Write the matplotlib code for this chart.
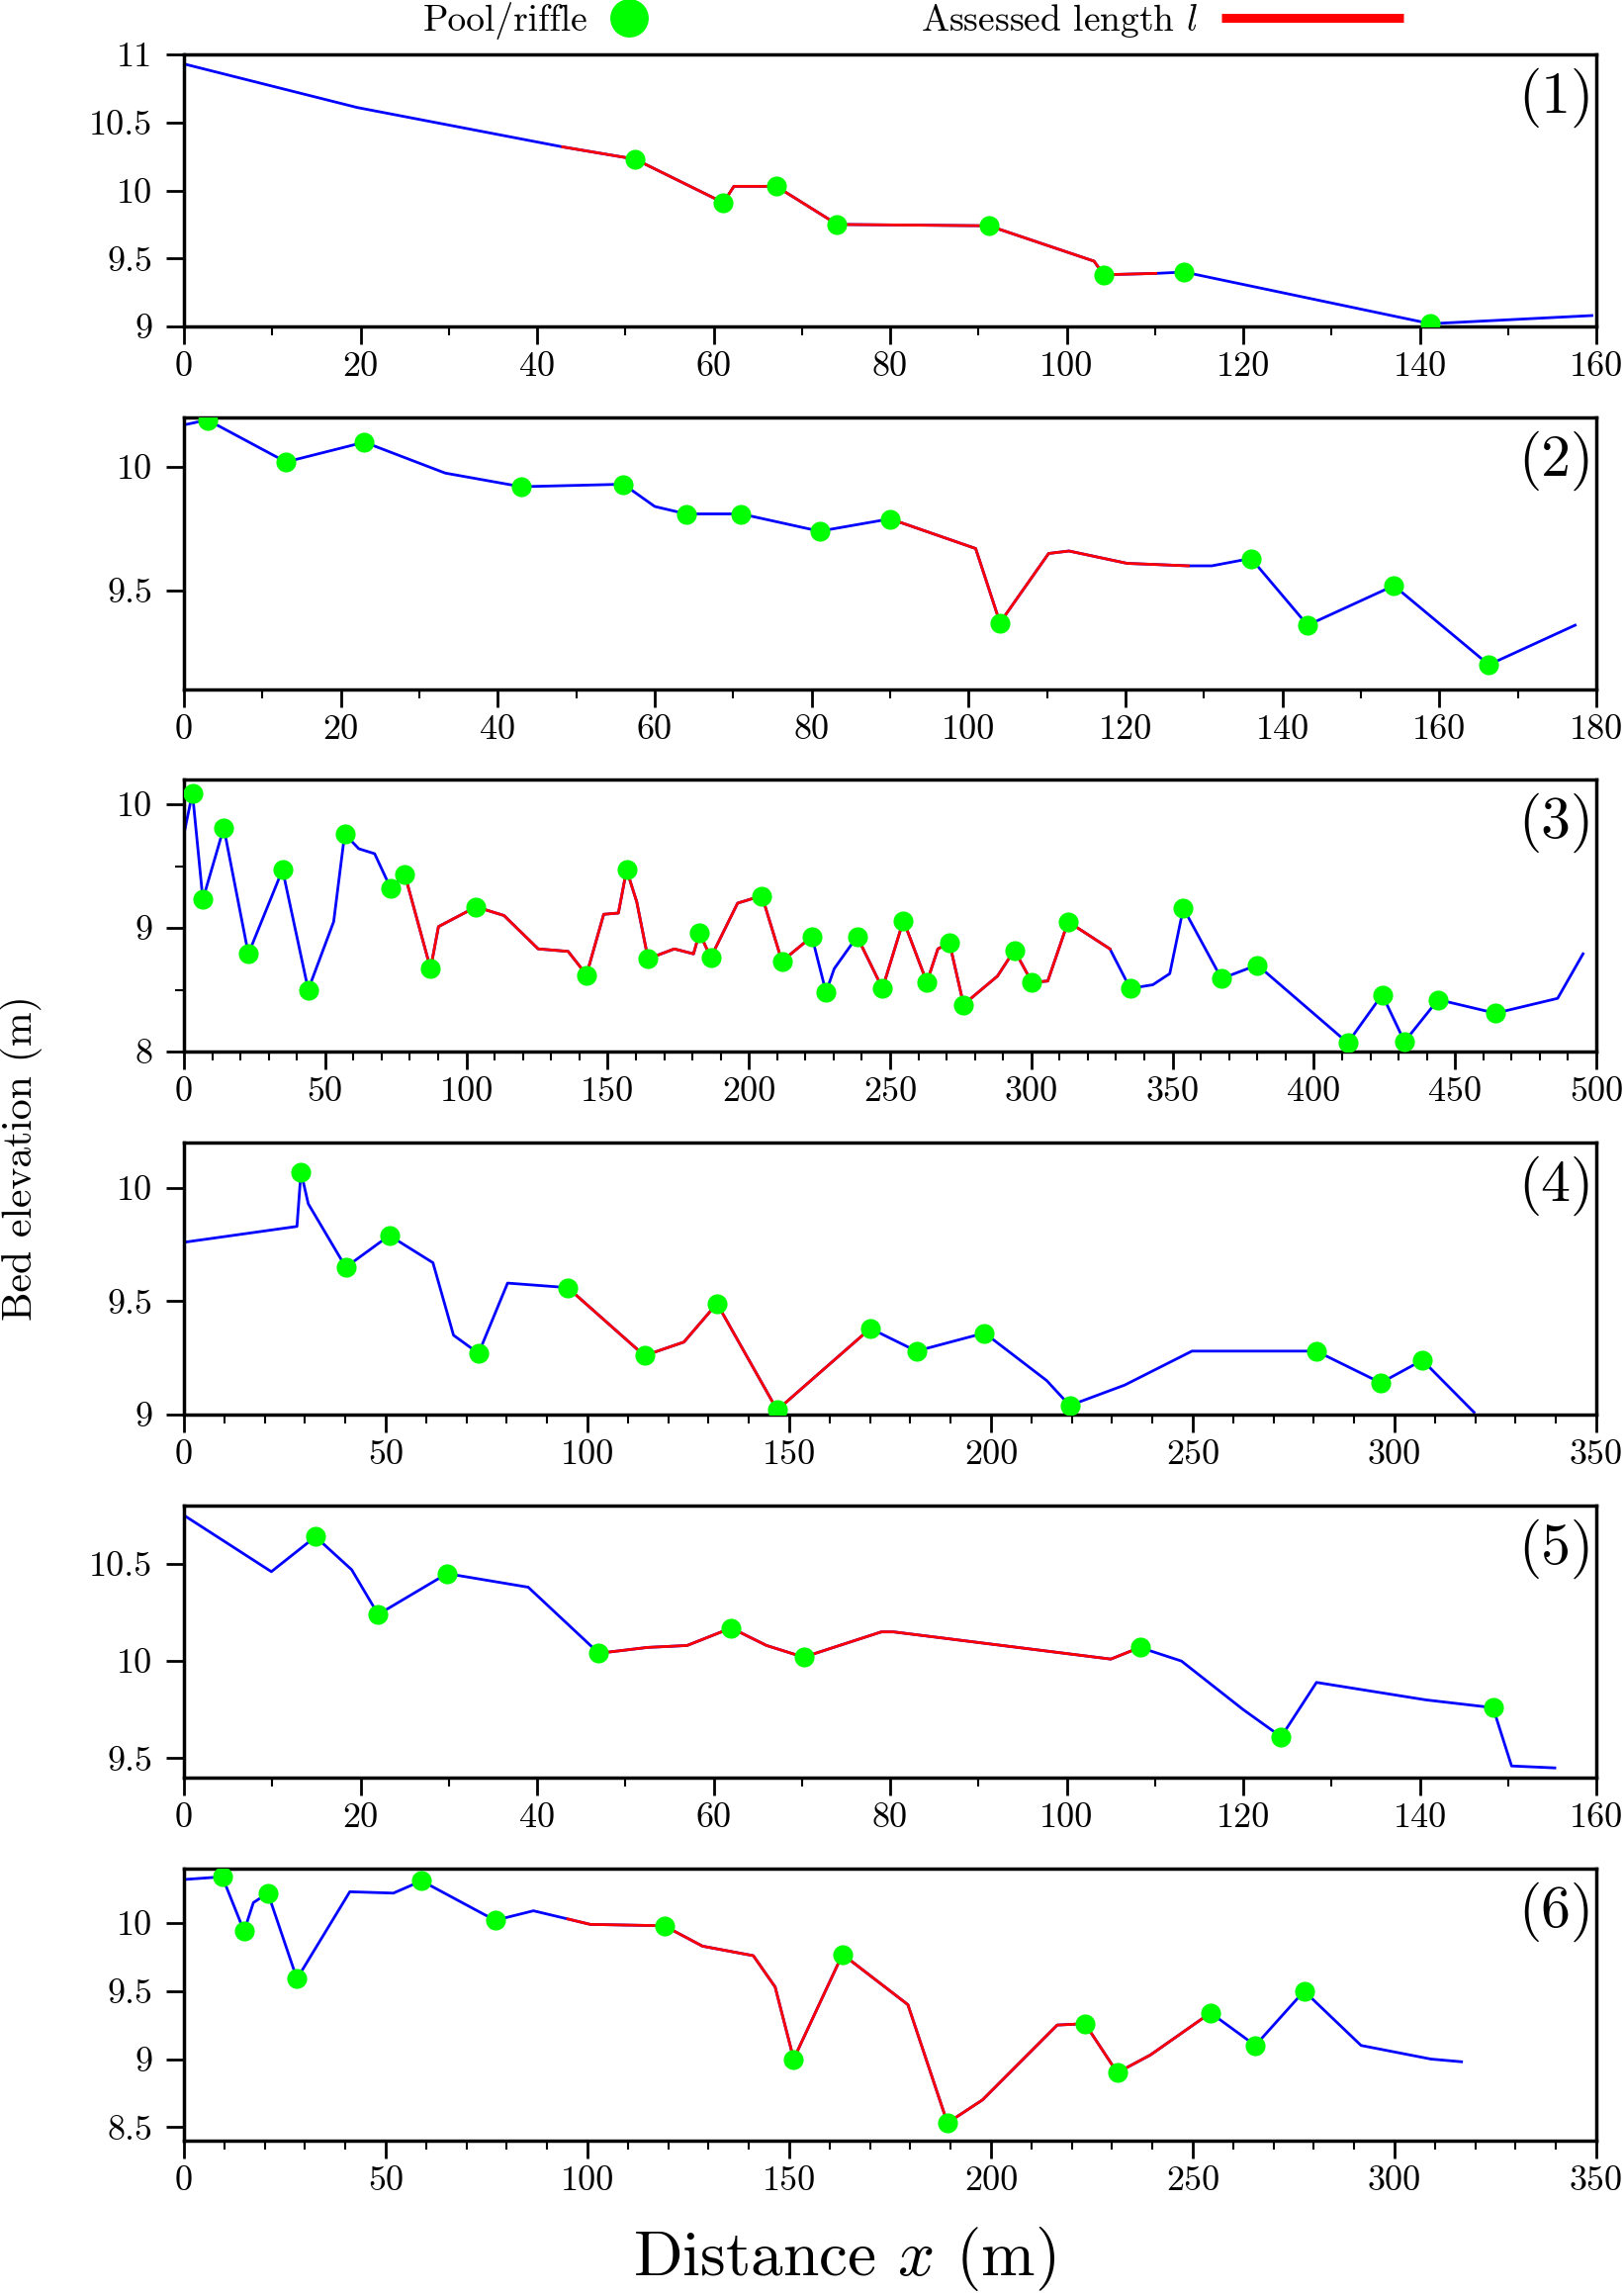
import numpy as np
import matplotlib
matplotlib.use('Agg')
import matplotlib.pyplot as plt
from matplotlib.lines import Line2D
from matplotlib.ticker import MultipleLocator, FuncFormatter

plt.rcParams['font.family'] = ['cmr10', 'DejaVu Serif']
plt.rcParams['mathtext.fontset'] = 'cm'
plt.rcParams['axes.formatter.use_mathtext'] = True

# ---- data: distance x (m), bed elevation z (m) ----
x1 = [0, 19.6, 42.9, 51.1, 61.1, 62.3, 67.1, 74.0, 91.2, 103.1, 104.2, 110.1, 113.3, 141.2, 159.5]
z1 = [10.93, 10.61, 10.32, 10.23, 9.91, 10.03, 10.03, 9.75, 9.74, 9.48, 9.38, 9.39, 9.40, 9.02, 9.08]
pools1 = [51.1, 61.1, 67.1, 74.0, 91.2, 104.2, 113.3, 141.2]
red1 = [(42.9, 110.1)]

x2 = [0, 3, 13, 23, 33.3, 43, 56, 60, 64, 71, 81, 90, 100.9, 104, 110.2, 112.8, 120.2, 128,
      131, 136, 143.2, 154.2, 166.3, 177.3]
z2 = [10.17, 10.19, 10.02, 10.10, 9.975, 9.92, 9.93, 9.84, 9.81, 9.81, 9.74, 9.79, 9.67, 9.37,
      9.65, 9.66, 9.61, 9.60, 9.60, 9.63, 9.36, 9.52, 9.20, 9.36]
pools2 = [3, 13, 23, 43, 56, 64, 71, 81, 90, 104, 136, 143.2, 154.2, 166.3]
red2 = [(90, 128)]

x3 = [0, 3, 6.7, 14.1, 22.8, 34.9, 44, 53, 56.9, 61.9, 67.5, 73.2, 78.2, 87.3, 90.1, 103.4,
      113.3, 125.4, 136, 142.5, 148.6, 153.8, 156.7, 160.3, 164.3, 173.6, 180.4, 182.5, 186.5,
      196, 204.6, 211.7, 222.3, 227.3, 230.2, 238.3, 247.3, 254.7, 263, 266.9, 271, 276, 288,
      294, 300.2, 305.8, 313, 327.8, 335, 343, 349, 353.8, 367.3, 380, 412, 424.2, 432.1, 444,
      464.3, 486.3, 495.3]
z3 = [9.76, 10.09, 9.23, 9.81, 8.79, 9.47, 8.50, 9.05, 9.76, 9.64, 9.60, 9.32, 9.43, 8.67,
      9.01, 9.17, 9.10, 8.83, 8.81, 8.62, 9.11, 9.12, 9.47, 9.21, 8.75, 8.83, 8.79, 8.96, 8.76,
      9.20, 9.26, 8.73, 8.93, 8.48, 8.67, 8.93, 8.51, 9.06, 8.56, 8.83, 8.88, 8.38, 8.61, 8.82,
      8.56, 8.57, 9.05, 8.83, 8.51, 8.54, 8.63, 9.16, 8.59, 8.70, 8.07, 8.46, 8.08, 8.42, 8.31,
      8.43, 8.79]
pools3 = [3, 6.7, 14.1, 22.8, 34.9, 44, 56.9, 73.2, 78.2, 87.3, 103.4, 142.5, 156.7, 164.3,
          182.5, 186.5, 204.6, 211.7, 222.3, 227.3, 238.3, 247.3, 254.7, 263, 271, 276, 294,
          300.2, 313, 335, 353.8, 367.3, 380, 412, 424.2, 432.1, 444, 464.3]
red3 = [(78.2, 222.3), (238.3, 327.8)]

x4 = [0, 28, 29, 30.8, 40.1, 50.9, 61.7, 66.8, 73, 80.2, 95.1, 114.1, 123.9, 132.1, 147, 170.1,
      181.5, 198.4, 213.8, 219.5, 233.1, 249.8, 280.6, 296.6, 306.9, 319.7]
z4 = [9.76, 9.83, 10.07, 9.93, 9.65, 9.79, 9.67, 9.35, 9.27, 9.58, 9.56, 9.26, 9.32, 9.49, 9.02,
      9.38, 9.28, 9.36, 9.15, 9.04, 9.13, 9.28, 9.28, 9.14, 9.24, 9.01]
pools4 = [29, 40.1, 50.9, 73, 95.1, 114.1, 132.1, 147, 170.1, 181.5, 198.4, 219.5, 280.6, 296.6, 306.9]
red4 = [(95.1, 170.1)]

x5 = [0, 9.9, 14.9, 19, 22, 29.8, 39, 47, 52.5, 57, 62, 66, 70.2, 79, 80.4, 105, 108.3, 113,
      120, 124.3, 128.3, 140.7, 148.3, 150.4, 155.3]
z5 = [10.75, 10.46, 10.64, 10.47, 10.24, 10.45, 10.38, 10.04, 10.07, 10.08, 10.17, 10.08, 10.02,
      10.15, 10.15, 10.01, 10.07, 10.0, 9.75, 9.61, 9.89, 9.80, 9.76, 9.46, 9.45]
pools5 = [14.9, 22, 29.8, 47, 62, 70.2, 108.3, 124.3, 148.3]
red5 = [(47, 108.3)]

x6 = [0, 9.5, 14.9, 17.2, 20.8, 28, 41.1, 51.9, 58.9, 77.1, 86.6, 95.1, 100.7, 119, 128.5, 141.1,
      146.5, 151.1, 163.2, 179.4, 189.2, 197.9, 216.4, 223.3, 231.3, 239.5, 254.4, 265.5, 277.6,
      291.7, 309, 316.6]
z6 = [10.32, 10.34, 9.94, 10.15, 10.22, 9.59, 10.23, 10.22, 10.31, 10.02, 10.09, 10.03, 9.99,
      9.98, 9.83, 9.76, 9.53, 9.0, 9.77, 9.40, 8.53, 8.70, 9.25, 9.26, 8.9, 9.03, 9.34, 9.10,
      9.50, 9.10, 9.0, 8.98]
pools6 = [9.5, 14.9, 20.8, 28, 58.9, 77.1, 119, 151.1, 163.2, 189.2, 223.3, 231.3, 254.4, 265.5, 277.6]
red6 = [(95.1, 254.4)]

xlims = [(0, 160), (0, 180), (0, 500), (0, 350), (0, 160), (0, 350)]
ylims = [(9, 11), (9.1, 10.2), (8, 10.2), (9, 10.2), (9.4, 10.8), (8.4, 10.4)]
xmajor = [20, 20, 50, 50, 20, 50]
yticks = [[9, 9.5, 10, 10.5, 11], [9.5, 10], [8, 9, 10], [9, 9.5, 10], [9.5, 10, 10.5],
          [8.5, 9, 9.5, 10]]
yminor = [None, None, 0.5, None, None, None]

profiles = [(x1, z1, pools1, red1), (x2, z2, pools2, red2), (x3, z3, pools3, red3),
            (x4, z4, pools4, red4), (x5, z5, pools5, red5), (x6, z6, pools6, red6)]

BLUE = '#0000ff'
RED = '#ff0000'
GREEN = '#00ff00'
TICK_FS = 26
LW = 2.0

fig = plt.figure(figsize=(16.42, 23.18), dpi=100)

W, H = 1642., 2318.
left, right = 186, 1614
tops = [55, 422, 788, 1155, 1522, 1889]
ph = 275

for k, (x, z, pools, reds) in enumerate(profiles):
    ax = fig.add_axes([left / W, 1 - (tops[k] + ph) / H, (right - left) / W, ph / H])
    x = np.array(x)
    z = np.array(z)
    ax.plot(x, z, color=BLUE, lw=LW, zorder=2)
    for a, b in reds:
        m = (x >= a) & (x <= b)
        ax.plot(x[m], z[m], color=RED, lw=LW, zorder=2.5)
    idx = [list(x).index(v) for v in pools]
    ax.plot(x[idx], z[idx], 'o', color=GREEN, mec='none', ms=14.5, zorder=3)

    ax.set_xlim(*xlims[k])
    ax.set_ylim(*ylims[k])
    ax.xaxis.set_major_locator(MultipleLocator(xmajor[k]))
    ax.xaxis.set_minor_locator(MultipleLocator(10))
    ax.set_yticks(yticks[k])
    if yminor[k]:
        ax.yaxis.set_minor_locator(MultipleLocator(yminor[k]))
    fmt = FuncFormatter(lambda v, p: '%g' % v)
    ax.xaxis.set_major_formatter(fmt)
    ax.yaxis.set_major_formatter(fmt)
    ax.tick_params(which='major', direction='out', length=13, width=2, labelsize=TICK_FS)
    ax.tick_params(which='minor', direction='out', length=6.5, width=1.5)
    ax.tick_params(axis='x', pad=5)
    ax.tick_params(axis='y', pad=10)
    for sp in ax.spines.values():
        sp.set_linewidth(2.5)
    ax.text(0.9985, 0.95, '(%d)' % (k + 1), transform=ax.transAxes, ha='right', va='top',
            fontsize=43)

fig.text(854 / W, 1 - 2300 / H, 'Distance $x$ (m)', ha='center', va='baseline', fontsize=47)
fig.text(22 / W, 1 - 1171 / H, 'Bed elevation (m)', ha='center', va='center',
         rotation=90, fontsize=30)

h1 = Line2D([], [], ls='none', marker='o', color=GREEN, mec='none', ms=28)
fig.legend([h1], ['Pool/riffle'], loc='center left', bbox_to_anchor=(428 / W, 1 - 21 / H),
           frameon=False, markerfirst=False, handlelength=1.0, handletextpad=0.6,
           fontsize=27, borderpad=0, borderaxespad=0)
h2 = Line2D([], [], color=RED, lw=6.5, solid_capstyle='butt')
fig.legend([h2], ['Assessed length $l$'], loc='center left', bbox_to_anchor=(931 / W, 1 - 21 / H),
           frameon=False, markerfirst=False, handlelength=4.9, handletextpad=0.65,
           fontsize=27, borderpad=0, borderaxespad=0)

fig.savefig('out.png', dpi=100)
